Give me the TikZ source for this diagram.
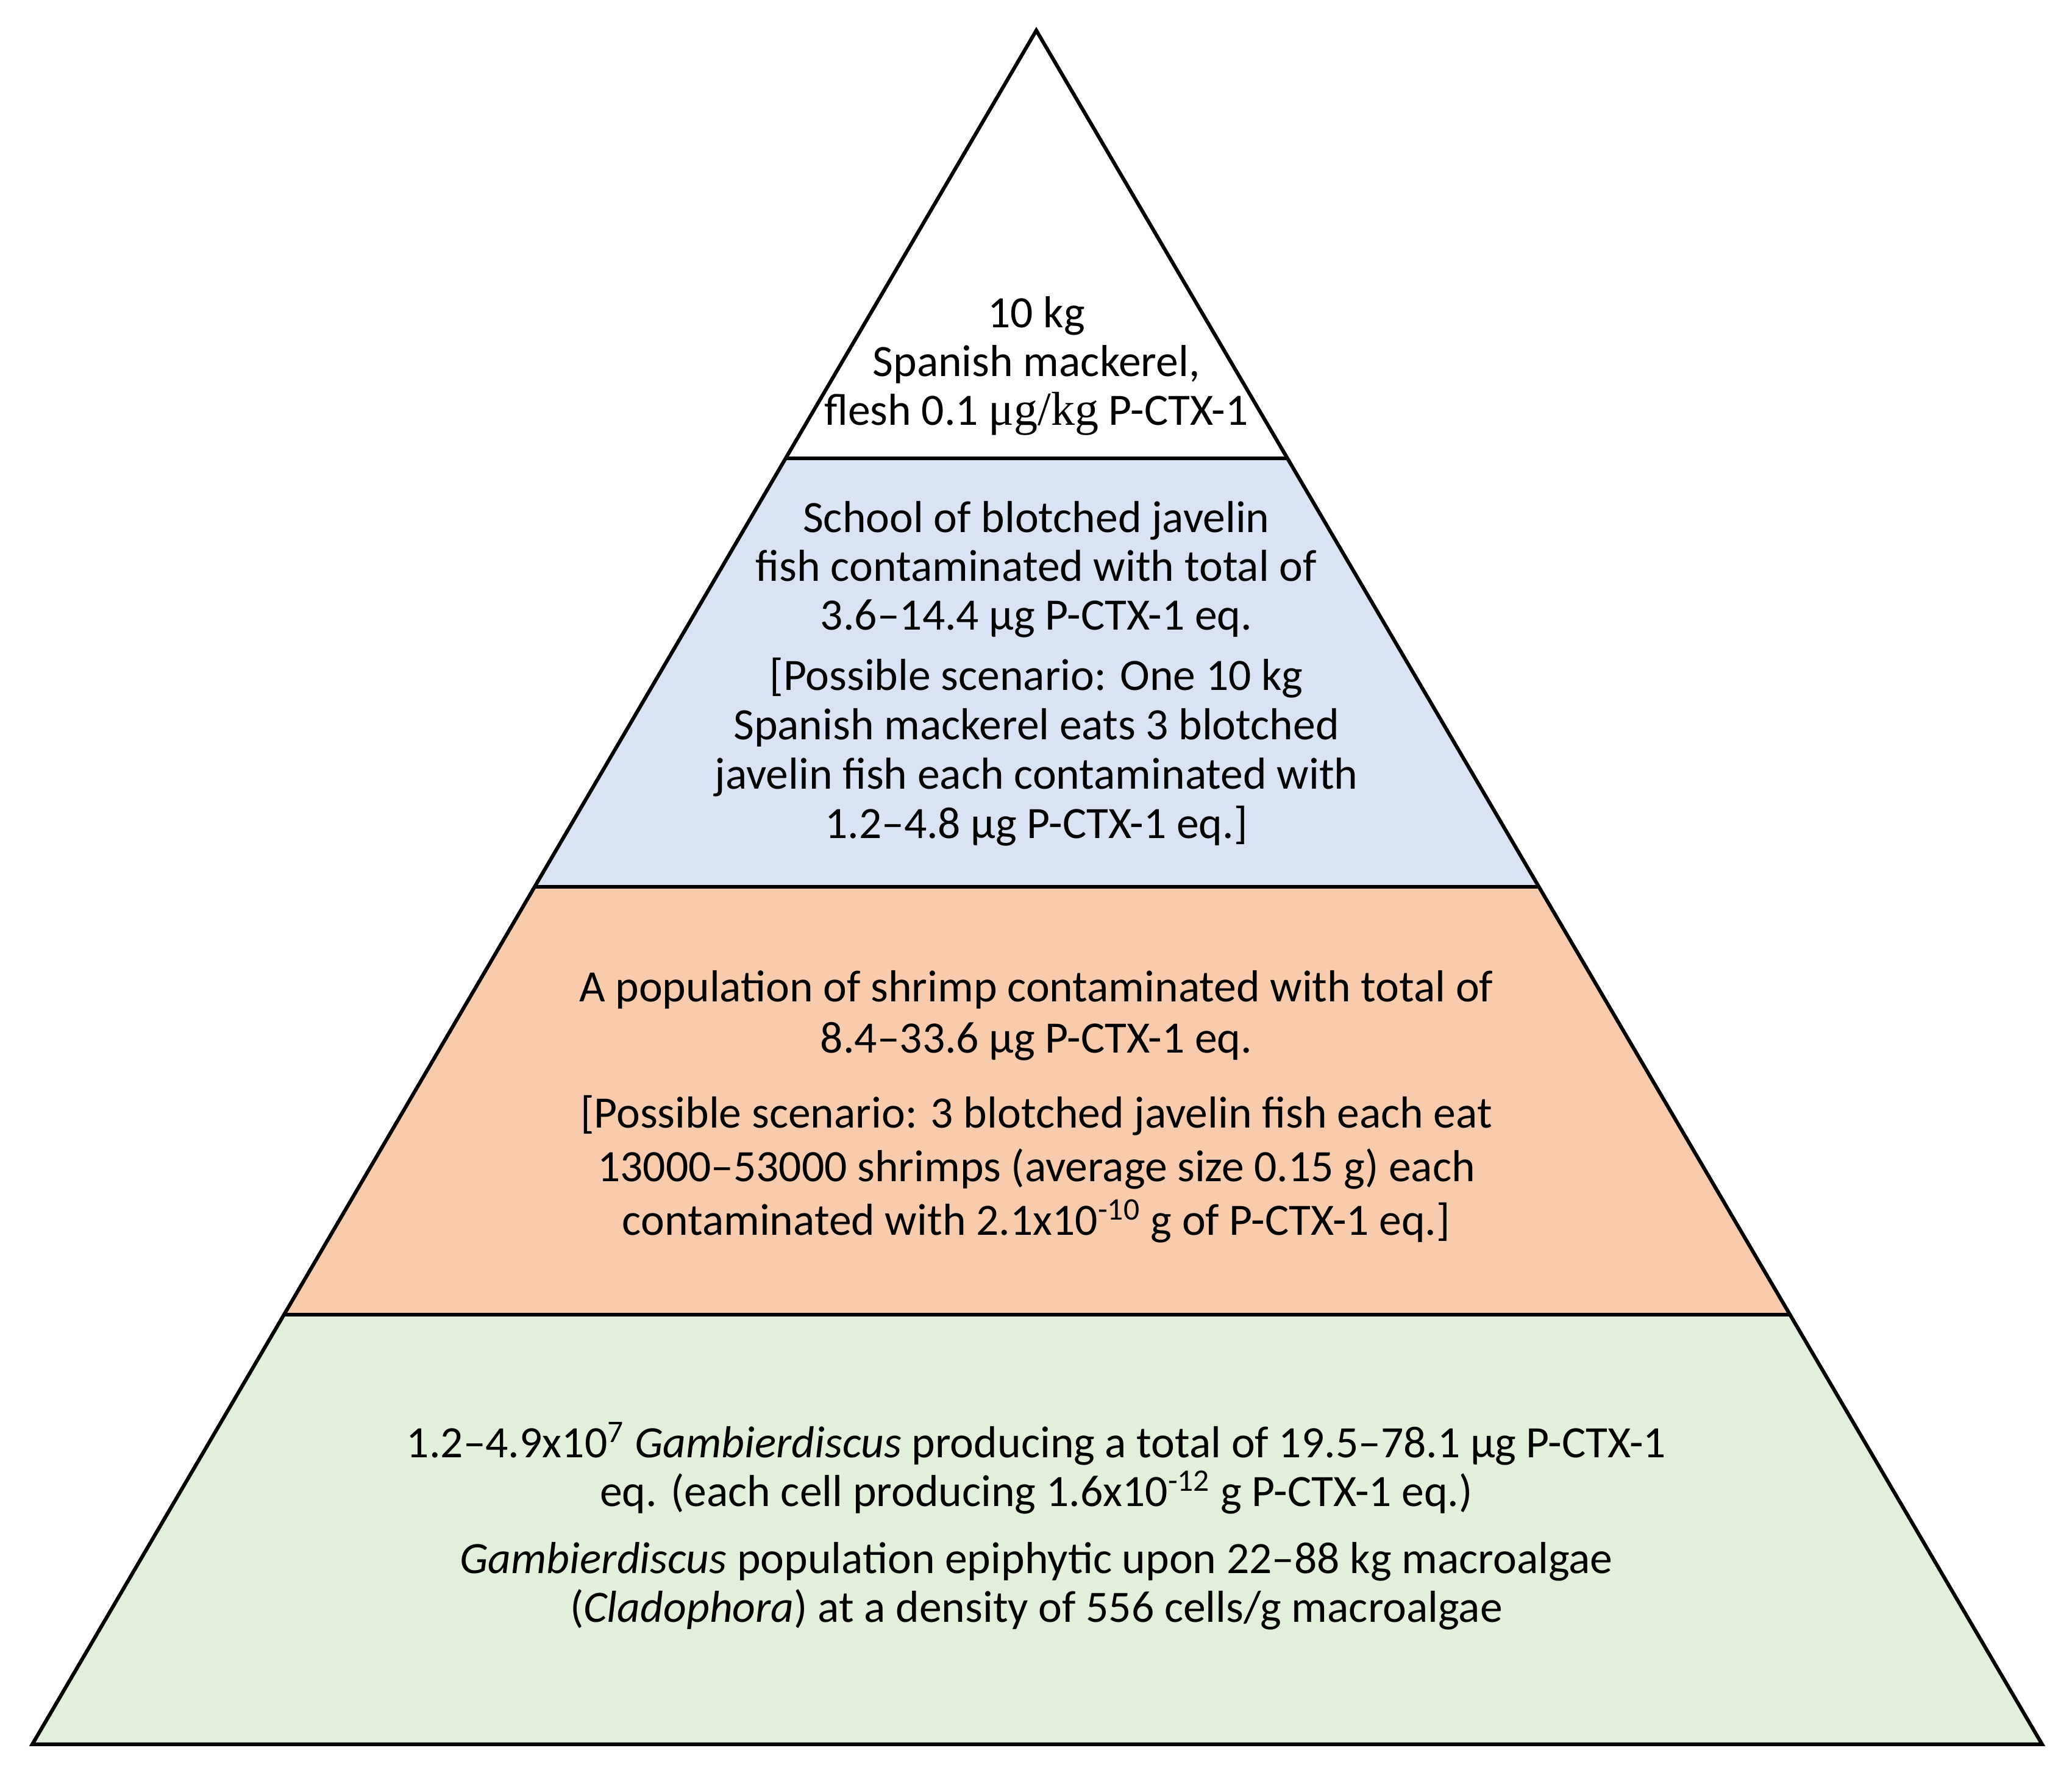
\documentclass[tikz,border=0pt]{standalone}
\usepackage{fontspec}
\setmainfont{Carlito}
\newfontfamily\serifmu{Liberation Serif}
\definecolor{blueband}{HTML}{DAE3F3}
\definecolor{orangeband}{HTML}{F8CBAD}
\definecolor{greenband}{HTML}{E2EFDA}
\tikzset{
  band/.style={draw=black, line width=1.5pt, line join=miter},
  lvltext/.style={align=center, inner sep=0pt, font=\fontsize{18.4}{20}\selectfont},
}
\begin{document}
\begin{tikzpicture}[x=1pt,y=1pt]
\useasboundingbox (0,0) rectangle (849.75,727.25);
% key points
\coordinate (apex) at (425,714.75);
\coordinate (bl) at (13.25,11.75);
\coordinate (br) at (837.5,11.75);
% level y positions
\def\yA{539.25}
\def\yB{363.6}
\def\yC{188}
\coordinate (a1) at ({13.25+(\yA-11.75)*0.585704},\yA);
\coordinate (a2) at ({837.5-(\yA-11.75)*0.586771},\yA);
\coordinate (b1) at ({13.25+(\yB-11.75)*0.585704},\yB);
\coordinate (b2) at ({837.5-(\yB-11.75)*0.586771},\yB);
\coordinate (c1) at ({13.25+(\yC-11.75)*0.585704},\yC);
\coordinate (c2) at ({837.5-(\yC-11.75)*0.586771},\yC);
% bands
\fill[greenband] (bl) -- (br) -- (c2) -- (c1) -- cycle;
\fill[orangeband] (c1) -- (c2) -- (b2) -- (b1) -- cycle;
\fill[blueband] (b1) -- (b2) -- (a2) -- (a1) -- cycle;
\fill[white] (a1) -- (a2) -- (apex) -- cycle;
\draw[band] (bl) -- (br) -- (apex) -- cycle;
\draw[band] (a1) -- (a2);
\draw[band] (b1) -- (b2);
\draw[band] (c1) -- (c2);
% texts
\node[lvltext] (t1) at (425,577.1) {10 kg\\Spanish mackerel,\\flesh 0.1 {\serifmu\fontsize{19.5}{20}\selectfont μg/kg} P-CTX-1};
\node[lvltext] (t2) at (425,493.75) {School of blotched javelin\\fish contaminated with total of\\3.6–14.4 μg P-CTX-1 eq.};
\node[lvltext, font=\fontsize{18.4}{20.25}\selectfont] (t3) at (425,418.9) {[Possible scenario: One 10 kg\\Spanish mackerel eats 3 blotched\\javelin fish each contaminated with\\1.2–4.8 μg P-CTX-1 eq.]};
\node[lvltext, font=\fontsize{18.4}{21}\selectfont] (t4) at (425,310.75) {A population of shrimp contaminated with total of\\8.4–33.6 μg P-CTX-1 eq.};
\node[lvltext, font=\fontsize{18.4}{22}\selectfont] (t5) at (425,247.75) {[Possible scenario: 3 blotched javelin fish each eat\\13000–53000 shrimps (average size 0.15 g) each\\contaminated with 2.1x10\textsuperscript{-10} g of P-CTX-1 eq.]};
\node[lvltext] (t6) at (425,125) {1.2–4.9x10\textsuperscript{7} \textit{Gambierdiscus} producing a total of 19.5–78.1 μg P-CTX-1\\eq. (each cell producing 1.6x10\textsuperscript{-12} g P-CTX-1 eq.)};
\node[lvltext] (t7) at (425,76.75) {\textit{Gambierdiscus} population epiphytic upon 22–88 kg macroalgae\\(\textit{Cladophora}) at a density of 556 cells/g macroalgae};
\end{tikzpicture}
\end{document}
